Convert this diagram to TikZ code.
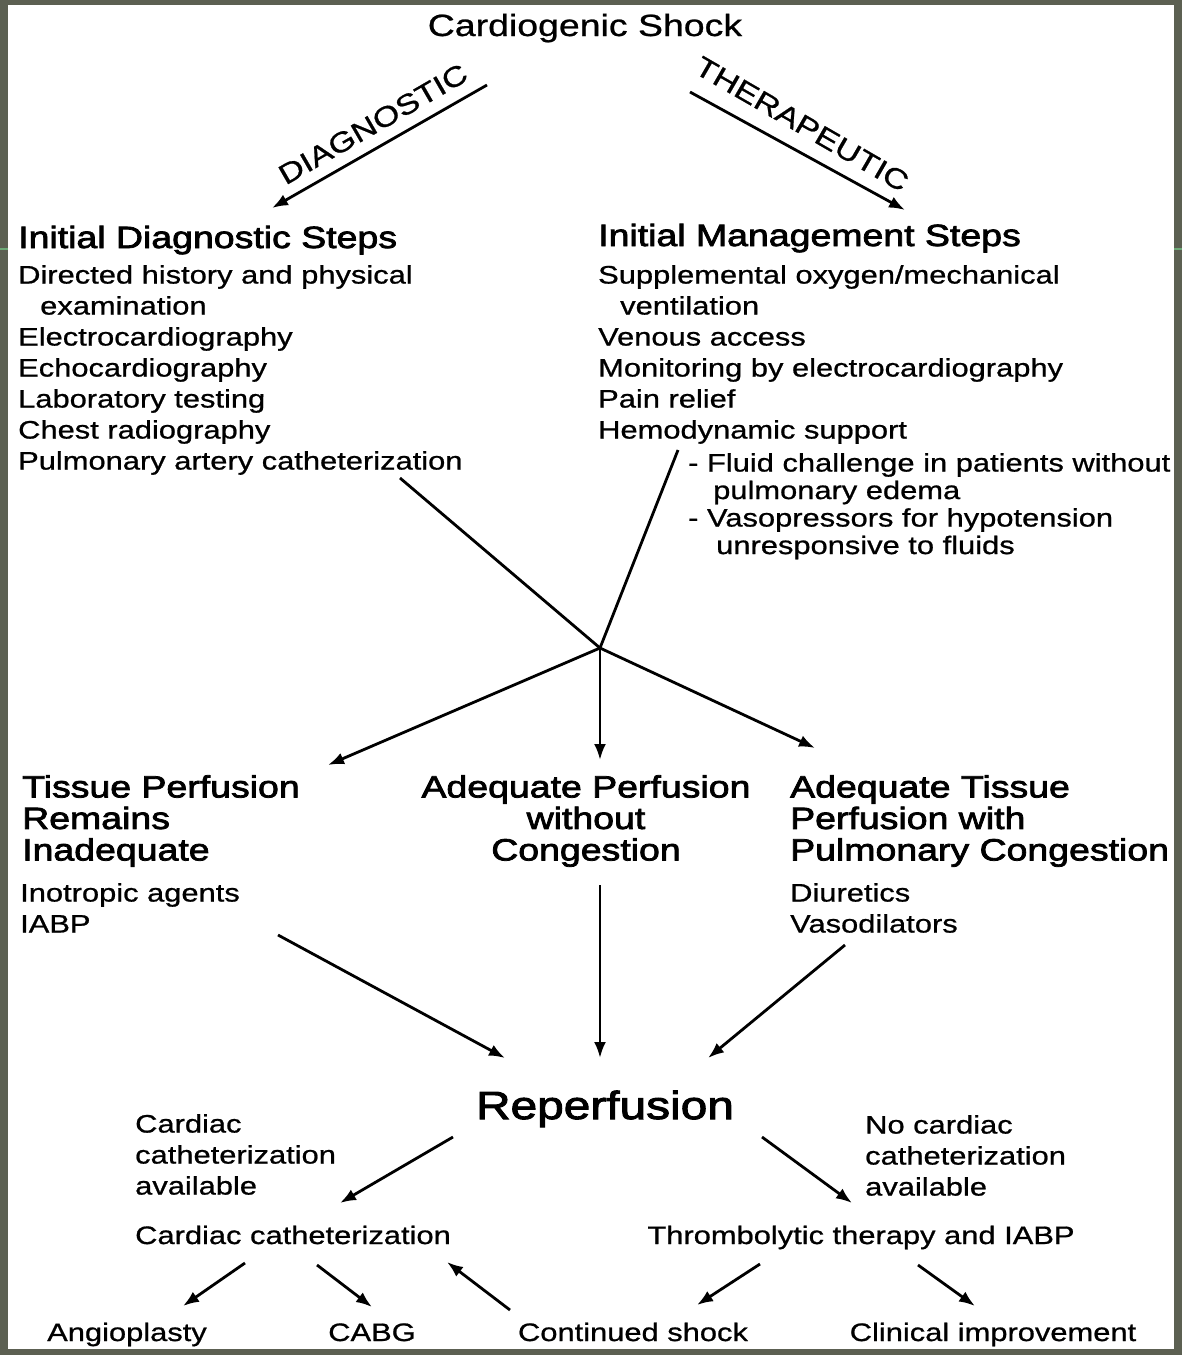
\documentclass[tikz,border=0pt]{standalone}
\usepackage{fontspec}
\setmainfont{Liberation Sans}[FakeStretch=1.22,FakeBold=0.8]
\newfontfamily\headfam{Liberation Sans}[FakeStretch=1.22,FakeBold=2.5]
\usetikzlibrary{arrows.meta}
\definecolor{slideframe}{RGB}{92,96,82}
\definecolor{slideline}{RGB}{110,170,120}
\tikzset{
  body/.style={font=\fontsize{25.3}{31}\selectfont, inner sep=0pt, align=left},
  subbody/.style={body, font=\fontsize{25.3}{27.5}\selectfont},
  head/.style={font=\headfam\fontsize{30.7}{31.5}\selectfont, inner sep=0pt, align=left},
  toptitle/.style={font=\fontsize{30.7}{32}\selectfont, inner sep=0pt},
  branch/.style={font=\fontsize{28}{30}\selectfont, inner sep=0pt},
  bigtitle/.style={font=\headfam\fontsize{39.2}{40}\selectfont, inner sep=0pt},
  wire/.style={line width=2.8pt},
  flow/.style={wire, -{Latex[length=16pt,width=12pt]}}
}

\begin{document}
\begin{tikzpicture}[x=1pt,y=-1pt]
  \useasboundingbox (0,0) rectangle (1182,1355);
  \fill[slideframe] (0,0) rectangle (1182,1355); % slide frame
  \fill[white] (8,5) rectangle (1174,1349); % page
  \draw[slideline,line width=1.5pt] (0,249) -- (8,249) (1174,249) -- (1182,249);

  % top
  \node[toptitle,anchor=base] (shock) at (585,36) {Cardiogenic Shock};
  \node[branch,rotate=30] (diag) at (373,124) {DIAGNOSTIC};
  \node[branch,rotate=-30] (ther) at (802,124) {THERAPEUTIC};
  \coordinate (diagtop) at (487,85);
  \coordinate (diagend) at (272,208);
  \coordinate (thertop) at (690,92);
  \coordinate (therend) at (905,210);
  \draw[flow] (diagtop) -- (diagend);
  \draw[flow] (thertop) -- (therend);

  % initial steps
  \node[head,anchor=base west] (dxhead) at (18,248) {Initial Diagnostic Steps};
  \node[body,anchor=north west] (dxlist) at (18,265) {Directed history and physical\\
    \hspace*{22pt}examination\\ Electrocardiography\\ Echocardiography\\
    Laboratory testing\\ Chest radiography\\ Pulmonary artery catheterization};
  \node[head,anchor=base west] (mghead) at (598,246) {Initial Management Steps};
  \node[body,anchor=north west] (mglist) at (598,265) {Supplemental oxygen/mechanical\\
    \hspace*{22pt}ventilation\\ Venous access\\ Monitoring by electrocardiography\\
    Pain relief\\ Hemodynamic support};
  \node[subbody,anchor=north west] (hemo) at (688,453) {- Fluid challenge in patients without\\
    \hspace*{25pt}pulmonary edema\\ - Vasopressors for hypotension\\
    \hspace*{28pt}unresponsive to fluids};

  % merge point
  \coordinate (hub) at (600,648);
  \coordinate (dxfoot) at (400,478);
  \coordinate (mgfoot) at (678,450);
  \draw[wire] (dxfoot) -- (hub);
  \draw[wire] (mgfoot) -- (hub);

  % three outcomes
  \node[head,anchor=north west] (tissue) at (22,775) {Tissue Perfusion\\ Remains\\ Inadequate};
  \node[body,anchor=north west] (inotrop) at (20,883) {Inotropic agents\\ IABP};
  \node[head,anchor=north,align=center] (adequate) at (586,775) {Adequate Perfusion\\ without\\ Congestion};
  \node[head,anchor=north west] (congest) at (790,775) {Adequate Tissue\\ Perfusion with\\ Pulmonary Congestion};
  \node[body,anchor=north west] (diuret) at (790,883) {Diuretics\\ Vasodilators};
  \coordinate (tissuein) at (328,765);
  \coordinate (adequatein) at (600,760);
  \coordinate (congestin) at (815,748);
  \draw[flow] (hub) -- (tissuein);
  \draw[flow] (hub) -- (adequatein);
  \draw[flow] (hub) -- (congestin);

  % reperfusion
  \node[bigtitle,anchor=base] (reperf) at (605,1119) {Reperfusion};
  \coordinate (inotropout) at (278,935);
  \coordinate (adequateout) at (600,885);
  \coordinate (diuretout) at (845,945);
  \coordinate (reperfleft) at (505,1058);
  \coordinate (reperfmid) at (600,1058);
  \coordinate (reperfright) at (708,1058);
  \draw[flow] (inotropout) -- (reperfleft);
  \draw[flow] (adequateout) -- (reperfmid);
  \draw[flow] (diuretout) -- (reperfright);

  % two routes
  \node[body,anchor=north west] (catyes) at (135,1114) {Cardiac\\ catheterization\\ available};
  \node[body,anchor=north west] (catno) at (865,1115) {No cardiac\\ catheterization\\ available};
  \node[body,anchor=base west] (cath) at (135,1244) {Cardiac catheterization};
  \node[body,anchor=base] (thromb) at (861,1244) {Thrombolytic therapy and IABP};
  \coordinate (reperfsw) at (453,1137);
  \coordinate (reperfse) at (762,1137);
  \coordinate (cathin) at (340,1203);
  \coordinate (thrombin) at (852,1203);
  \draw[flow] (reperfsw) -- (cathin);
  \draw[flow] (reperfse) -- (thrombin);

  % results
  \node[body,anchor=base] (angio) at (127,1341) {Angioplasty};
  \node[body,anchor=base] (cabg) at (372,1341) {CABG};
  \node[body,anchor=base] (contshock) at (633,1341) {Continued shock};
  \node[body,anchor=base] (improve) at (993,1341) {Clinical improvement};
  \coordinate (cathl) at (245,1263);
  \coordinate (cathr) at (317,1265);
  \coordinate (angioin) at (183,1306);
  \coordinate (cabgin) at (372,1307);
  \coordinate (shockup) at (510,1310);
  \coordinate (cathback) at (447,1262);
  \coordinate (thrombl) at (760,1264);
  \coordinate (thrombr) at (918,1265);
  \coordinate (shockin) at (697,1305);
  \coordinate (improvein) at (975,1306);
  \draw[flow] (cathl) -- (angioin);
  \draw[flow] (cathr) -- (cabgin);
  \draw[flow] (shockup) -- (cathback);
  \draw[flow] (thrombl) -- (shockin);
  \draw[flow] (thrombr) -- (improvein);
\end{tikzpicture}
\end{document}
